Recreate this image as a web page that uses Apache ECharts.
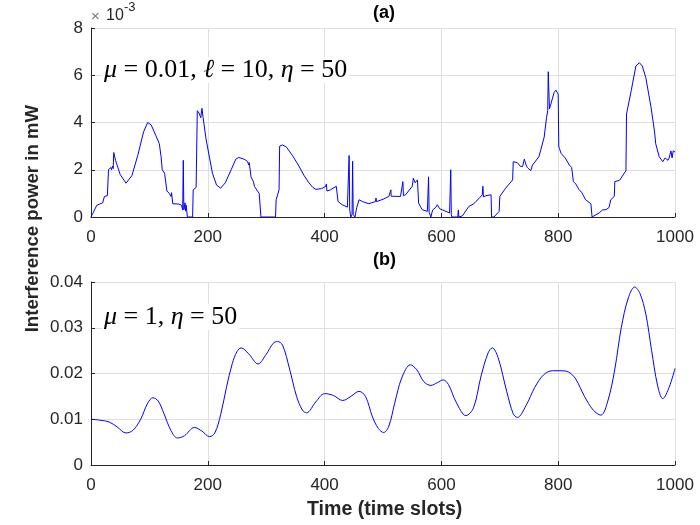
<!DOCTYPE html>
<html>
<head>
<meta charset="utf-8">
<script src="https://cdn.jsdelivr.net/npm/echarts@6/dist/echarts.min.js"></script>
<style>
  html, body { margin: 0; padding: 0; background: #fff; }
  #chart { width: 700px; height: 525px; }
</style>
</head>
<body>
<div id="chart"></div>
<script>
// (a) mu=0.01, l=10, eta=50 ; values in units of 1e-3 mW
const seriesA = [[0,0],[3,0.15],[6,0.3],[10,0.5],[15,0.55],[20,0.6],[23,0.87],[28,0.9],[29,0.95],[30,2.0],[32,1.95],[34,2.1],[35,2.0],[37,2.15],[38,2.05],[39,2.73],[42,2.4],[50,1.8],[60,1.43],[70,1.75],[80,2.6],[90,3.6],[97,4.0],[103,3.9],[111,3.45],[117,3.1],[120,2.55],[122,2.0],[126,1.85],[130,1.1],[134,1.0],[137,0.87],[138,1.03],[140,0.56],[150,0.55],[155,0.5],[157,0.3],[158,2.4],[159,0.3],[161,0.6],[162,0.25],[163,0.5],[165,0],[174,0],[175,1.15],[180,1.25],[182,4.5],[185,4.4],[188,4.2],[190,4.6],[192,4.2],[197,3.3],[203,2.5],[208,1.85],[215,1.35],[222,1.22],[230,1.45],[240,2.0],[248,2.45],[253,2.52],[262,2.45],[268,2.35],[270,2.2],[271,2.3],[274,1.7],[278,1.5],[280,1.29],[285,1.1],[288,1.0],[291,0],[316,0],[317,0.73],[320,0.8],[322,1.15],[323,3.0],[328,3.05],[335,2.95],[345,2.6],[355,2.2],[365,1.75],[373,1.45],[380,1.25],[385,1.17],[395,1.2],[402,1.3],[403,1.4],[404,1.1],[410,1.15],[420,1.3],[422,1.36],[423,0.66],[430,0.52],[439,0.42],[441,0.35],[442,2.6],[443,0.3],[445,0],[447,0.1],[448,2.36],[449,0.1],[452,0],[455,0.4],[459,0.73],[465,0.65],[476,0.56],[480,0.6],[487,0.65],[488,0.8],[489,0.65],[500,0.75],[510,0.87],[513,0.87],[513.5,1.15],[514,0.88],[530,0.87],[533,0.9],[534,1.5],[535,0.9],[539,0.95],[550,1.3],[552,1.64],[555,1.45],[559,1.57],[561,0.59],[567,0.31],[576,0.24],[577,0.24],[578,1.7],[579,0.2],[582,0],[585,0.3],[587,0.35],[590,0.4],[593,0.52],[597,0.35],[602,0.3],[614,0.17],[615,0.17],[616,2.0],[617,0.1],[618,0],[628,0],[629,0.3],[630,0],[636,0.05],[647,0.45],[655,0.55],[659,0.66],[665,0.8],[670,0.94],[671,1.3],[672,0.85],[676,0.9],[685,0.94],[686,0],[690,0],[699,0.24],[700,0.87],[710,1.22],[722,1.57],[723,2.34],[730,2.3],[735,2.15],[739,2.13],[742,2.45],[745,2.2],[747,2.1],[753,1.96],[756,2.2],[767,2.55],[776,3.38],[780,4.2],[782,4.5],[783,6.15],[785,4.57],[793,5.27],[796,5.37],[800,5.2],[801,3.0],[802,2.9],[805,2.69],[812,2.5],[819,2.2],[823,2.1],[826,1.5],[830,1.4],[836,1.15],[840,1.05],[847,0.73],[850,0.65],[856,0.56],[858,0],[870,0.17],[876,0.3],[882,0.31],[887,0.4],[890,0.73],[896,0.87],[897,1.5],[905,1.55],[916,1.96],[917,4.36],[925,5.34],[933,6.39],[939,6.53],[944,6.39],[950,5.9],[959,4.64],[965,3.6],[967,3.1],[973,2.55],[979,2.34],[983,2.5],[985,2.55],[988,2.4],[990,2.5],[993,2.8],[995,2.5],[997,2.8],[1000,2.75]];

// (b) mu=1, eta=50 ; values in mW
const seriesB = [[0,0.0100],[15,0.0098],[31,0.0094],[45,0.0083],[60,0.0070],[72,0.0076],[85,0.0100],[97,0.0135],[106,0.0147],[115,0.0140],[125,0.0112],[137,0.0075],[148,0.0059],[160,0.0064],[177,0.0082],[190,0.0074],[203,0.0062],[212,0.0070],[222,0.0110],[232,0.0170],[242,0.0222],[250,0.0248],[257,0.0256],[270,0.0243],[286,0.0221],[300,0.0242],[312,0.0266],[319,0.0270],[328,0.0262],[340,0.0210],[352,0.0150],[362,0.0120],[369,0.0114],[385,0.0138],[400,0.0156],[415,0.0152],[431,0.0141],[445,0.0150],[459,0.0161],[470,0.0150],[482,0.0105],[492,0.0080],[501,0.0071],[510,0.0085],[520,0.0135],[532,0.0190],[547,0.0219],[558,0.0208],[570,0.0182],[582,0.0174],[593,0.0180],[603,0.0186],[612,0.0176],[625,0.0138],[642,0.0108],[655,0.0125],[668,0.0195],[680,0.0245],[687,0.0256],[697,0.0235],[712,0.0160],[723,0.0112],[730,0.0104],[745,0.0130],[760,0.0170],[775,0.0197],[790,0.0206],[805,0.0206],[818,0.0203],[830,0.0188],[845,0.0150],[860,0.0120],[873,0.0109],[885,0.0140],[897,0.0210],[908,0.0300],[920,0.0365],[931,0.0389],[940,0.0375],[950,0.0330],[960,0.0250],[970,0.0175],[979,0.0145],[990,0.0170],[1000,0.0211]];

const xTicks = [0, 200, 400, 600, 800, 1000];
const yTicksA = [0, 2, 4, 6, 8];
const yTicksB = [0, 0.01, 0.02, 0.03, 0.04];

const SANS = 'Liberation Sans, Arial, sans-serif';
const SERIF = 'Liberation Serif, serif';
const tickFont = { fontFamily: SANS, fontSize: 17, color: '#262626' };
const gridLine = { show: true, lineStyle: { color: '#dfdfdf', width: 1 } };

function xAxis(gridIndex) {
  return {
    gridIndex: gridIndex, type: 'value', min: xTicks[0], max: xTicks[xTicks.length - 1],
    interval: xTicks[1] - xTicks[0],
    axisLine: { show: true, lineStyle: { color: '#262626', width: 1 } },
    axisTick: { show: true, inside: true, length: 4, lineStyle: { color: '#262626' } },
    axisLabel: Object.assign({ margin: 12, formatter: v => String(v) }, tickFont),
    splitLine: gridLine
  };
}
function yAxis(gridIndex, ticks, fmt) {
  return {
    gridIndex: gridIndex, type: 'value', min: ticks[0], max: ticks[ticks.length - 1],
    interval: ticks[1] - ticks[0],
    axisLine: { show: true, lineStyle: { color: '#262626', width: 1 } },
    axisTick: { show: true, inside: true, length: 4, lineStyle: { color: '#262626' } },
    axisLabel: Object.assign({ margin: 8, formatter: fmt }, tickFont),
    splitLine: gridLine
  };
}

const serifRich = {
  i: { fontFamily: SERIF, fontStyle: 'italic', fontSize: 26, fill: '#000' },
  n: { fontFamily: SERIF, fontSize: 26, fill: '#000' }
};

const chart = echarts.init(document.getElementById('chart'), null, { renderer: 'canvas' });
chart.setOption({
  animation: false,
  grid: [
    { left: 91, right: 25, top: 28, height: 189 },
    { left: 91, right: 25, top: 282, height: 183 }
  ],
  xAxis: [xAxis(0), xAxis(1)],
  yAxis: [
    yAxis(0, yTicksA, v => String(v)),
    yAxis(1, yTicksB, v => v === 0 ? '0' : v.toFixed(2))
  ],
  series: [
    { type: 'line', xAxisIndex: 0, yAxisIndex: 0, data: seriesA, showSymbol: false,
      lineStyle: { color: '#0000ff', width: 1 } },
    { type: 'line', xAxisIndex: 1, yAxisIndex: 1, data: seriesB, showSymbol: false, smooth: 0.35,
      lineStyle: { color: '#0000ff', width: 1 } }
  ],
  graphic: [
    { type: 'text', left: 373, top: 4, style: { text: '(a)', fontFamily: SANS, fontWeight: 'bold', fontSize: 18, fill: '#000' } },
    { type: 'text', left: 373, top: 251, style: { text: '(b)', fontFamily: SANS, fontWeight: 'bold', fontSize: 18, fill: '#000' } },
    { type: 'text', left: 91, top: 9, style: { text: '×', fontFamily: SANS, fontSize: 15, fill: '#777' } },
    { type: 'text', left: 106, top: 8, style: { text: '10', fontFamily: SANS, fontSize: 16, fill: '#262626' } },
    { type: 'text', left: 124, top: 1, style: { text: '-3', fontFamily: SANS, fontSize: 13, fill: '#262626' } },
    { type: 'text', left: 102, top: 57, z: 100, style: {
      text: '{i|μ}{n| = 0.01, }{i|ℓ}{n| = 10, }{i|η}{n| = 50}', rich: serifRich,
      backgroundColor: '#fff', padding: [0, 2, 0, 2] } },
    { type: 'text', left: 102, top: 304, z: 100, style: {
      text: '{i|μ}{n| = 1, }{i|η}{n| = 50}', rich: serifRich,
      backgroundColor: '#fff', padding: [0, 2, 0, 2] } },
    { type: 'text', left: 23, top: 105, rotation: Math.PI / 2, style: {
      text: 'Interference power in mW', fontFamily: SANS, fontWeight: 'bold', fontSize: 18.6, fill: '#262626' } },
    { type: 'text', left: 307, top: 500, style: {
      text: 'Time (time slots)', fontFamily: SANS, fontWeight: 'bold', fontSize: 19.6, fill: '#262626' } }
  ]
});
</script>
</body>
</html>
